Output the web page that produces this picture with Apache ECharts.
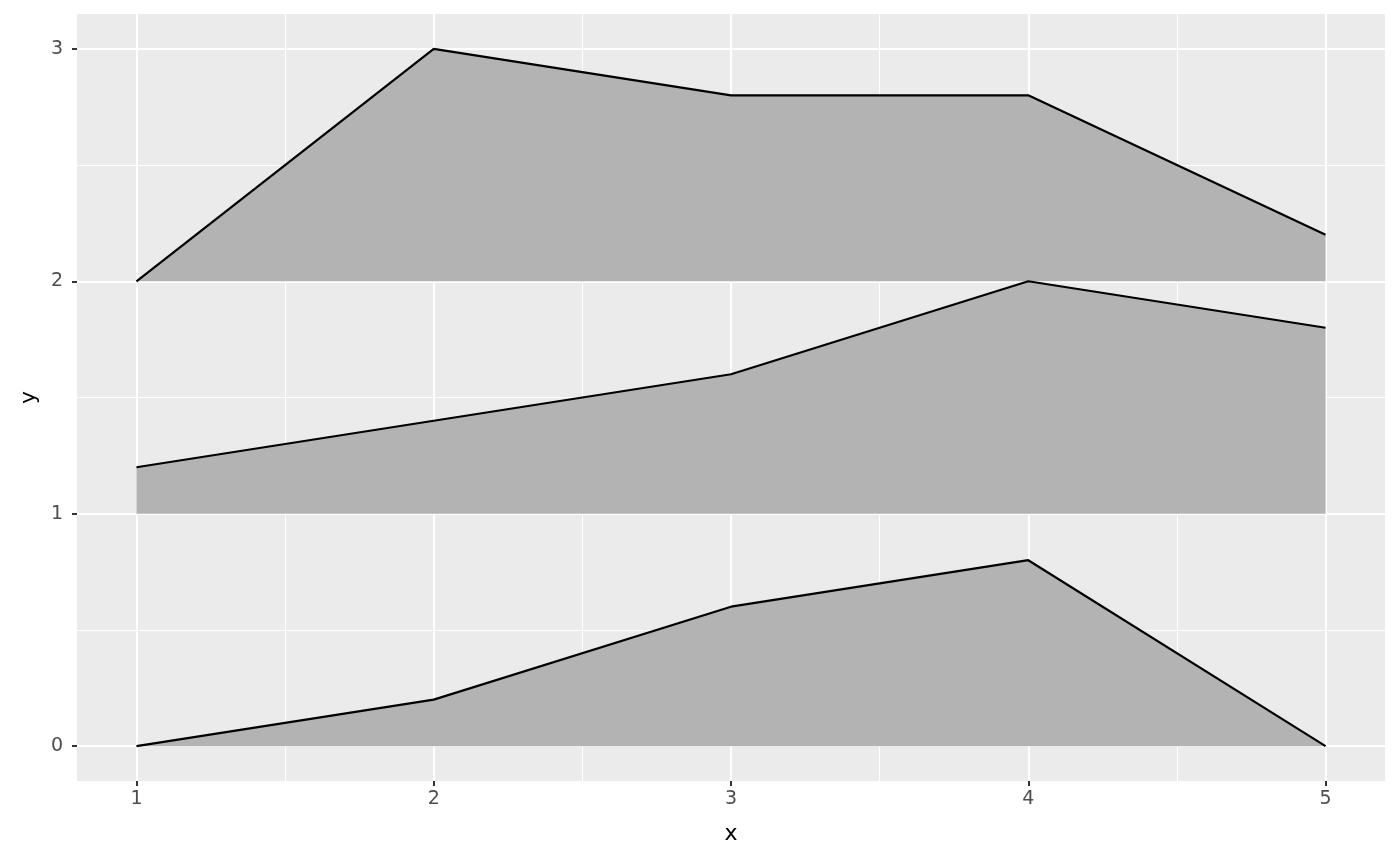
<!DOCTYPE html>
<html>
<head>
<meta charset="utf-8">
<script src="https://cdn.jsdelivr.net/npm/echarts@6/dist/echarts.min.js"></script>
<style>
  html, body { margin: 0; padding: 0; background: #fff; }
  #chart { width: 1400px; height: 865px; }
</style>
</head>
<body>
<div id="chart"></div>
<script>
// data
var xs = [1, 2, 3, 4, 5];
var ridgeOffsets = [0, 1, 2];
var ridgeHeights = [
  [0, 0.2, 0.6, 0.8, 0],
  [0.2, 0.4, 0.6, 1.0, 0.8],
  [0, 1.0, 0.8, 0.8, 0.2]
];
var xMajor = [1, 2, 3, 4, 5];
var xMinor = [1.5, 2.5, 3.5, 4.5];
var yMajor = [0, 1, 2, 3];
var yMinor = [0.5, 1.5, 2.5];

var font = 'DejaVu Sans';

// grid lines as markLines (panel is ggplot style)
function gridLines(vals, key, w) {
  return vals.map(function (v) {
    var o = { lineStyle: { width: w } };
    o[key] = v;
    return o;
  });
}

var series = [];
series.push({
  type: 'line',
  data: [],
  z: 0,
  silent: true,
  markLine: {
    silent: true,
    z: 0,
    symbol: ['none', 'none'],
    label: { show: false },
    animation: false,
    lineStyle: { color: '#ffffff', type: 'solid' },
    data: gridLines(xMinor, 'xAxis', 1)
      .concat(gridLines(yMinor, 'yAxis', 1))
      .concat(gridLines(xMajor, 'xAxis', 2))
      .concat(gridLines(yMajor, 'yAxis', 2))
  }
});

// ridges, drawn top one first
for (var r = ridgeOffsets.length - 1; r >= 0; r--) {
  var off = ridgeOffsets[r];
  var pts = [];
  for (var i = 0; i < xs.length; i++) {
    pts.push([xs[i], off + ridgeHeights[r][i]]);
  }
  series.push({
    type: 'line',
    data: pts,
    z: 10,
    symbol: 'none',
    lineStyle: { color: '#000000', width: 2.2 },
    areaStyle: { color: '#B3B3B3', opacity: 1, origin: off }
  });
}

var chart = echarts.init(document.getElementById('chart'));
chart.setOption({
  animation: false,
  backgroundColor: '#ffffff',
  grid: {
    left: 77, right: 15, top: 14, bottom: 84,
    show: true, backgroundColor: '#EBEBEB', borderWidth: 0
  },
  xAxis: {
    type: 'value',
    min: 0.8, max: 5.2,
    name: 'x',
    nameLocation: 'middle',
    nameGap: 42,
    nameTextStyle: { fontFamily: font, fontSize: 22, color: '#000' },
    axisLine: { show: false, onZero: false },
    splitLine: { show: false },
    axisTick: { show: true, length: 5, customValues: xMajor, lineStyle: { color: '#333', width: 2 } },
    axisLabel: { customValues: xMajor, margin: 9, fontFamily: font, fontSize: 19, color: '#4D4D4D' }
  },
  yAxis: {
    type: 'value',
    min: -0.15, max: 3.15,
    name: 'y',
    nameLocation: 'middle',
    nameGap: 36,
    nameTextStyle: { fontFamily: font, fontSize: 22, color: '#000' },
    axisLine: { show: false, onZero: false },
    splitLine: { show: false },
    axisTick: { show: true, length: 5, customValues: yMajor, lineStyle: { color: '#333', width: 2 } },
    axisLabel: { customValues: yMajor, margin: 14, fontFamily: font, fontSize: 19, color: '#4D4D4D' }
  },
  series: series
});
</script>
</body>
</html>
